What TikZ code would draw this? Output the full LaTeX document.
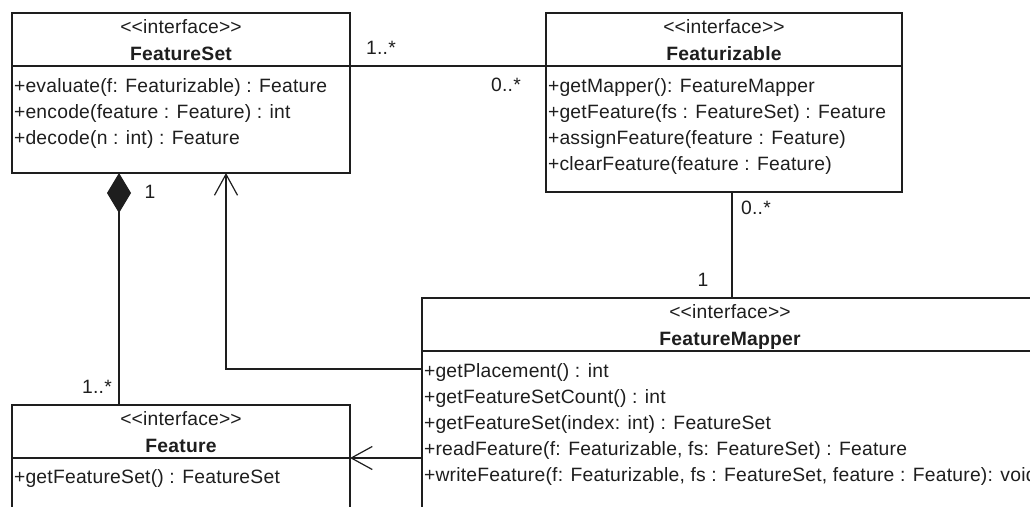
\documentclass[tikz,border=0pt]{standalone}
\usepackage{fontspec}
\setmainfont{Liberation Sans}[LetterSpace=1.2]
\usetikzlibrary{arrows.meta}
\definecolor{ln}{HTML}{1E1E1E}
\definecolor{txt}{HTML}{1E1E1E}
% stereotype guillemets typed as two separate angle brackets
\newcommand{\stereo}[1]{<\kern0pt<#1>\kern0pt>}
\begin{document}
\begin{tikzpicture}[x=1pt,y=-1pt,
  every node/.style={inner sep=0pt, outer sep=0pt, text=txt,
    font=\fontsize{19.3}{26}\selectfont},
  box/.style={draw=ln, line width=1.2pt, anchor=north west},
  cname/.style={anchor=base, font=\fontsize{19.3}{26}\selectfont\bfseries},
  meth/.style={anchor=base west},
  conn/.style={draw=ln, line width=1.2pt},
  openhead/.style={-{Straight Barb[length=21pt,width=23pt]}},
  comphead/.style={{Diamond[length=40pt,width=24pt,fill=ln]}-}]

\clip (0,0) rectangle (1030,506);
\fill[white] (0,0) rectangle (1030,506);

% ---------- FeatureSet ----------
\node[box, minimum width=338pt, minimum height=53pt] (fset-h) at (12,13) {};
\node[box, minimum width=338pt, minimum height=107pt] (fset-b) at (fset-h.south west) {};
\node[anchor=base] (fset-st) at ([yshift=-20pt]fset-h.north) {\stereo{interface}};
\node[cname] (fset-n) at ([yshift=-47pt]fset-h.north) {FeatureSet};
\node[meth] (fset-m1) at ([xshift=2pt,yshift=-26pt]fset-b.north west) {+evaluate(f: Featurizable) : Feature};
\node[meth] (fset-m2) at ([xshift=2pt,yshift=-52pt]fset-b.north west) {+encode(feature : Feature) : int};
\node[meth] (fset-m3) at ([xshift=2pt,yshift=-78pt]fset-b.north west) {+decode(n : int) : Feature};

% ---------- Featurizable ----------
\node[box, minimum width=356pt, minimum height=53pt] (fzable-h) at (546,13) {};
\node[box, minimum width=356pt, minimum height=126pt] (fzable-b) at (fzable-h.south west) {};
\node[anchor=base] (fzable-st) at ([yshift=-20pt]fzable-h.north) {\stereo{interface}};
\node[cname] (fzable-n) at ([yshift=-47pt]fzable-h.north) {Featurizable};
\node[meth] (fzable-m1) at ([xshift=2pt,yshift=-26pt]fzable-b.north west) {+getMapper(): FeatureMapper};
\node[meth] (fzable-m2) at ([xshift=2pt,yshift=-52pt]fzable-b.north west) {+getFeature(fs : FeatureSet) : Feature};
\node[meth] (fzable-m3) at ([xshift=2pt,yshift=-78pt]fzable-b.north west) {+assignFeature(feature : Feature)};
\node[meth] (fzable-m4) at ([xshift=2pt,yshift=-104pt]fzable-b.north west) {+clearFeature(feature : Feature)};

% ---------- FeatureMapper ----------
\node[box, minimum width=616pt, minimum height=53pt] (fmap-h) at (422,298) {};
\node[box, minimum width=616pt, minimum height=190pt] (fmap-b) at (fmap-h.south west) {};
\node[anchor=base] (fmap-st) at ([yshift=-20pt]fmap-h.north) {\stereo{interface}};
\node[cname] (fmap-n) at ([yshift=-47pt]fmap-h.north) {FeatureMapper};
\node[meth] (fmap-m1) at ([xshift=2pt,yshift=-26pt]fmap-b.north west) {+getPlacement() : int};
\node[meth] (fmap-m2) at ([xshift=2pt,yshift=-52pt]fmap-b.north west) {+getFeatureSetCount() : int};
\node[meth] (fmap-m3) at ([xshift=2pt,yshift=-78pt]fmap-b.north west) {+getFeatureSet(index: int) : FeatureSet};
\node[meth] (fmap-m4) at ([xshift=2pt,yshift=-104pt]fmap-b.north west) {+readFeature(f: Featurizable, fs: FeatureSet) : Feature};
\node[meth] (fmap-m5) at ([xshift=2pt,yshift=-130pt]fmap-b.north west) {+writeFeature(f: Featurizable, fs : FeatureSet, feature : Feature): void};

% ---------- Feature ----------
\node[box, minimum width=338pt, minimum height=53pt] (feat-h) at (12,405) {};
\node[box, minimum width=338pt, minimum height=80pt] (feat-b) at (feat-h.south west) {};
\node[anchor=base] (feat-st) at ([yshift=-20pt]feat-h.north) {\stereo{interface}};
\node[cname] (feat-n) at ([yshift=-47pt]feat-h.north) {Feature};
\node[meth] (feat-m1) at ([xshift=2pt,yshift=-25pt]feat-b.north west) {+getFeatureSet() : FeatureSet};

% ---------- connectors ----------
% association FeatureSet -- Featurizable
\draw[conn] (fset-h.south east) -- (fzable-h.south west);
\node (m-a1) at (381,48) {1..*};
\node (m-a2) at (506,85) {0..*};

% composition FeatureSet <>-- Feature
\coordinate (cp-top) at ([xshift=107pt]fset-b.south west);
\coordinate (cp-bot) at ([xshift=107pt]feat-h.north west);
\draw[conn, comphead] (cp-top) -- (cp-bot);
\node (m-c1) at (150,192) {1};
\node (m-c2) at (97,387) {1..*};

% association Featurizable -- FeatureMapper
\coordinate (fz-a) at ([xshift=186pt]fzable-b.south west);
\draw[conn] (fz-a) -- (fz-a |- fmap-h.north);
\node (m-f1) at (756,208) {0..*};
\node (m-f2) at (703,280) {1};

% FeatureMapper --> FeatureSet
\coordinate (dep-a) at ([yshift=-18pt]fmap-b.north west);
\coordinate (dep-b) at ([xshift=214pt]fset-b.south west);
\draw[conn, openhead] (dep-a) -| (dep-b);

% FeatureMapper --> Feature
\draw[conn, openhead] (feat-h.south east -| fmap-b.west) -- (feat-h.south east);

\end{tikzpicture}
\end{document}
